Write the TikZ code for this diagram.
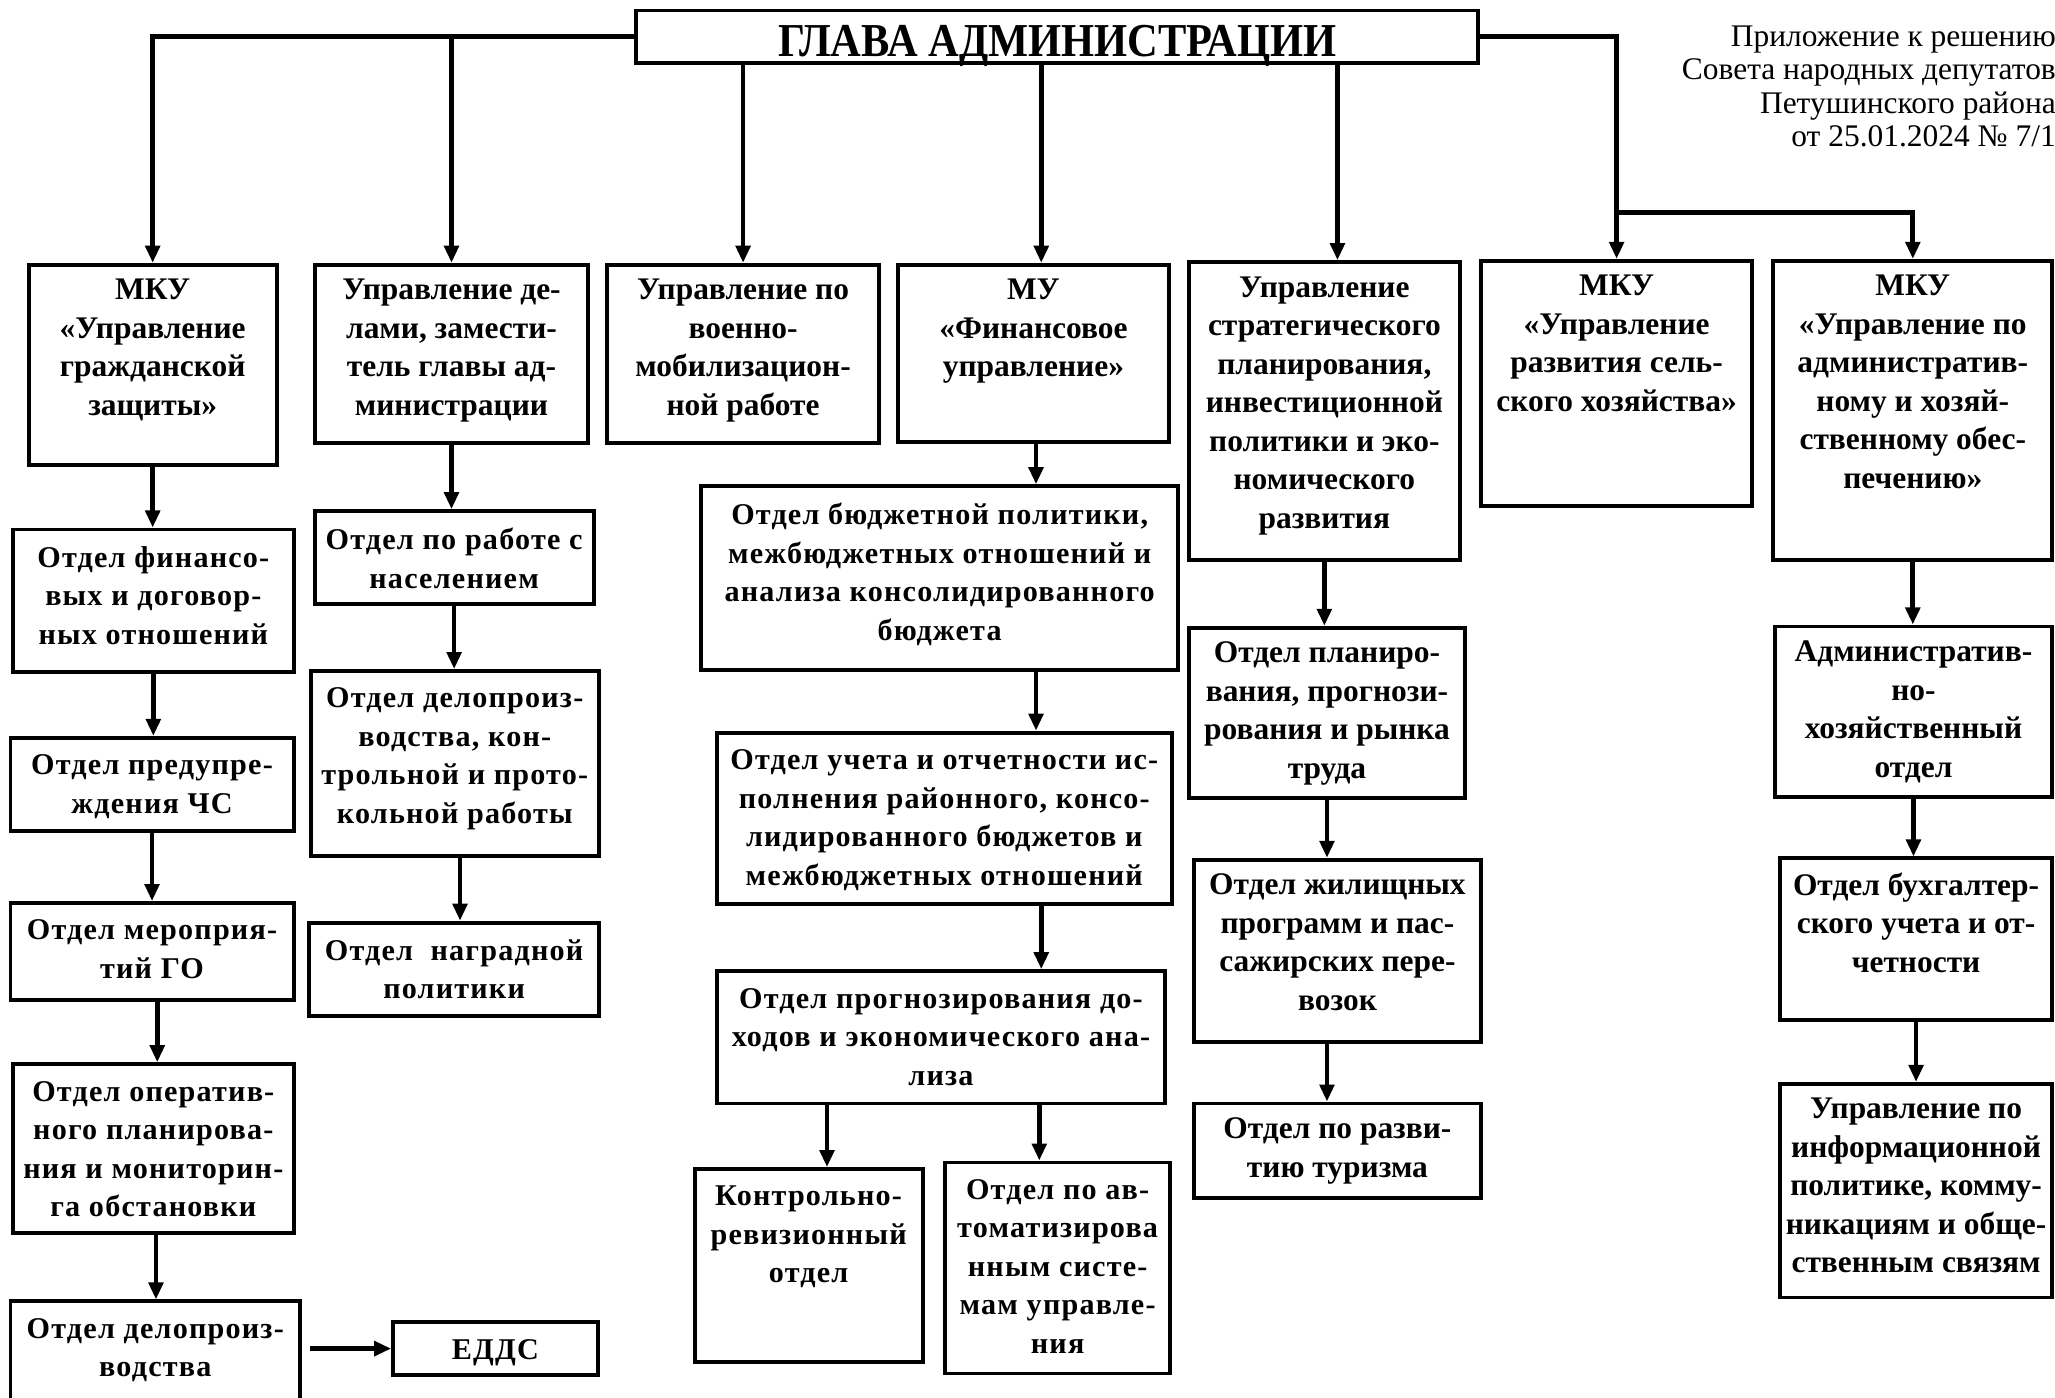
\documentclass[tikz,border=0pt]{standalone}
\usepackage{graphicx}
\usepackage{fontspec}
\setmainfont{Liberation Serif}
\newfontfamily\spacedserif[LetterSpace=4]{Liberation Serif}
\usetikzlibrary{arrows.meta,positioning,fit}

\tikzset{
  box/.style={draw, line width=1.5pt, inner sep=0pt},
  txt/.style={align=center, inner sep=0pt, font=\bfseries\fontsize{12}{14.7}\selectfont},
  wtxt/.style={align=center, inner sep=0pt, font=\spacedserif\bfseries\fontsize{11.5}{14.7}\selectfont},
  arr/.style={line width=1.8pt, -{Triangle[width=5.5pt,length=6.5pt]}},
}

\begin{document}
\begin{tikzpicture}[x=0.5pt,y=-0.5pt]
    \useasboundingbox (0,0) rectangle (1568,1066);

    \node [box, fit={(485,8) (1128,48)}] (glava) {};
    \node [anchor=base, inner sep=0pt, font=\bfseries\fontsize{18}{18}\selectfont] (glavat) at (807,43) {\scalebox{0.9}[1]{ГЛАВА АДМИНИСТРАЦИИ}};

    \node [anchor=north east, align=right, inner sep=0pt, font=\fontsize{12}{12.8}\selectfont] (note) at (1569,19)
      {Приложение к решению\\Совета народных депутатов\\Петушинского района\\от 25.01.2024 № 7/1};

    \node [box, fit={(22,202) (211,355)}] (b1) {};
    \node [txt, below=6pt of b1.north] (b1t) {МКУ\\«Управление\\гражданской\\защиты»};
    \node [box, fit={(240,202) (449,338)}] (b2) {};
    \node [txt, below=6pt of b2.north] (b2t) {Управление де-\\лами, замести-\\тель главы ад-\\министрации};
    \node [box, fit={(463,202) (671,338)}] (b3) {};
    \node [txt, below=6pt of b3.north] (b3t) {Управление по\\военно-\\мобилизацион-\\ной работе};
    \node [box, fit={(685,202) (892,337)}] (b4) {};
    \node [txt, below=6pt of b4.north] (b4t) {МУ\\«Финансовое\\управление»};
    \node [box, fit={(907,200) (1114,427)}] (b5) {};
    \node [txt, below=6pt of b5.north] (b5t) {Управление\\стратегического\\планирования,\\инвестиционной\\политики и эко-\\номического\\развития};
    \node [box, fit={(1130,199) (1337,386)}] (b6) {};
    \node [txt, below=6pt of b6.north] (b6t) {МКУ\\«Управление\\развития сель-\\ского хозяйства»};
    \node [box, fit={(1353,199) (1566,427)}] (b7) {};
    \node [txt, below=6pt of b7.north] (b7t) {МКУ\\«Управление по\\административ-\\ному и хозяй-\\ственному обес-\\печению»};

    \node [box, fit={(10,404) (224,513)}] (c1a) {};
    \node [wtxt, below=7pt of c1a.north] (c1at) {Отдел финансо-\\вых и договор-\\ных отношений};
    \node [box, fit={(8,563) (224,634)}] (c1b) {};
    \node [wtxt, below=7pt of c1b.north] (c1bt) {Отдел предупре-\\ждения ЧС};
    \node [box, fit={(8,689) (224,763)}] (c1c) {};
    \node [wtxt, below=7pt of c1c.north] (c1ct) {Отдел мероприя-\\тий ГО};
    \node [box, fit={(10,812) (224,941)}] (c1d) {};
    \node [wtxt, below=7pt of c1d.north] (c1dt) {Отдел оператив-\\ного планирова-\\ния и мониторин-\\га обстановки};
    \node [box, fit={(8,993) (229,1075)}] (c1e) {};
    \node [wtxt, below=7pt of c1e.north] (c1et) {Отдел делопроиз-\\водства};
    \node [box, fit={(300,1009) (456,1049)}] (edds) {};
    \node [wtxt, below=7pt of edds.north] (eddst) {ЕДДС};

    \node [box, fit={(240,390) (453,461)}] (c2a) {};
    \node [wtxt, below=7pt of c2a.north] (c2at) {Отдел по работе с\\населением};
    \node [box, fit={(237,512) (457,653)}] (c2b) {};
    \node [wtxt, below=7pt of c2b.north] (c2bt) {Отдел делопроиз-\\водства, кон-\\трольной и прото-\\кольной работы};
    \node [box, fit={(236,704) (457,775)}] (c2c) {};
    \node [wtxt, below=7pt of c2c.north] (c2ct) {Отдел~~наградной\\политики};

    \node [box, fit={(535,371) (899,511)}] (c4a) {};
    \node [wtxt, below=7pt of c4a.north] (c4at) {Отдел бюджетной политики,\\межбюджетных отношений и\\анализа консолидированного\\бюджета};
    \node [box, fit={(547,559) (894,690)}] (c4b) {};
    \node [wtxt, below=7pt of c4b.north] (c4bt) {Отдел учета и отчетности ис-\\полнения районного, консо-\\лидированного бюджетов и\\межбюджетных отношений};
    \node [box, fit={(547,741) (889,842)}] (c4c) {};
    \node [wtxt, below=7pt of c4c.north] (c4ct) {Отдел прогнозирования до-\\ходов и экономического ана-\\лиза};
    \node [box, fit={(530,892) (704,1039)}] (c4d) {};
    \node [wtxt, below=7pt of c4d.north] (c4dt) {Контрольно-\\ревизионный\\отдел};
    \node [box, fit={(721,887) (893,1048)}] (c4e) {};
    \node [wtxt, below=7pt of c4e.north] (c4et) {Отдел по ав-\\томатизирова\\нным систе-\\мам управле-\\ния};

    \node [box, fit={(907,479) (1118,609)}] (c5a) {};
    \node [txt, below=6pt of c5a.north] (c5at) {Отдел планиро-\\вания, прогнози-\\рования и рынка\\труда};
    \node [box, fit={(911,656) (1130,795)}] (c5b) {};
    \node [txt, below=6pt of c5b.north] (c5bt) {Отдел жилищных\\программ и пас-\\сажирских пере-\\возок};
    \node [box, fit={(911,842) (1130,914)}] (c5c) {};
    \node [txt, below=6pt of c5c.north] (c5ct) {Отдел по разви-\\тию туризма};

    \node [box, fit={(1354,478) (1566,608)}] (c7a) {};
    \node [txt, below=6pt of c7a.north] (c7at) {Административ-\\но-\\хозяйственный\\отдел};
    \node [box, fit={(1358,655) (1566,778)}] (c7b) {};
    \node [txt, below=6pt of c7b.north] (c7bt) {Отдел бухгалтер-\\ского учета и от-\\четности};
    \node [box, fit={(1358,827) (1566,990)}] (c7c) {};
    \node [txt, below=6pt of c7c.north] (c7ct) {Управление по\\информационной\\политике, комму-\\никациям и обще-\\ственным связям};

    \draw [arr] (glava.west) -| (b1.north);
    \draw [arr] (glava.west -| b2.north) -- (b2.north);
    \draw [arr] (glava.south -| b3.north) -- (b3.north);
    \draw [arr] ([xshift=3pt]b4.north |- glava.south) -- ([xshift=3pt]b4.north);
    \draw [arr] ([xshift=5pt]b5.north |- glava.south) -- ([xshift=5pt]b5.north);
    \draw [arr] (glava.east) -| (b6.north);
    \coordinate (split) at (1233,162);
    \draw [arr] (split) -| (b7.north);

    \draw [arr] (b1.south) -- (b1.south |- c1a.north);
    \draw [arr] (c1a.south) -- (c1a.south |- c1b.north);
    \draw [arr] (c1b.south) -- (c1b.south |- c1c.north);
    \draw [arr] ([xshift=2pt]c1c.south) -- ([xshift=2pt]c1c.south |- c1d.north);
    \draw [arr] ([xshift=1pt]c1d.south) -- ([xshift=1pt]c1d.south |- c1e.north);
    \draw [arr] ([xshift=3pt]c1e.east |- edds) -- (edds.west);

    \draw [arr] (b2.south) -- (b2.south |- c2a.north);
    \draw [arr] (c2a.south) -- (c2a.south |- c2b.north);
    \draw [arr] ([xshift=2pt]c2b.south) -- ([xshift=2pt]c2b.south |- c2c.north);

    \draw [arr] ([xshift=1pt]b4.south) -- ([xshift=1pt]b4.south |- c4a.north);
    \draw [arr] ([xshift=1pt]c4a.south -| b4.south) -- ([xshift=1pt]c4b.north -| b4.south);
    \draw [arr] ([xshift=3pt]c4b.south -| b4.south) -- ([xshift=3pt]c4c.north -| b4.south);
    \draw [arr] ([xshift=7pt]c4d.north |- c4c.south) -- ([xshift=7pt]c4d.north);
    \draw [arr] ([xshift=-7pt]c4e.north |- c4c.south) -- ([xshift=-7pt]c4e.north);

    \draw [arr] (b5.south) -- (b5.south |- c5a.north);
    \draw [arr] (c5a.south) -- (c5a.south |- c5b.north);
    \draw [arr] (c5b.south -| c5a.south) -- (c5c.north -| c5a.south);

    \draw [arr] (b7.south) -- (b7.south |- c7a.north);
    \draw [arr] (c7a.south) -- (c7a.south |- c7b.north);
    \draw [arr] (c7b.south) -- (c7b.south |- c7c.north);
\end{tikzpicture}
\end{document}
